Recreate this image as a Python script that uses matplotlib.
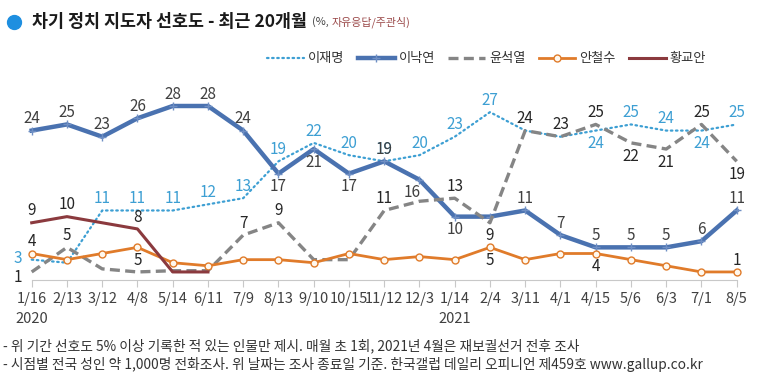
import matplotlib
matplotlib.use('Agg')
import matplotlib.pyplot as plt
from matplotlib.lines import Line2D

plt.rcParams['font.family'] = ['Noto Sans CJK KR', 'DejaVu Sans']

# survey dates (2020/01 .. 2021/08)
dates = ['1/16', '2/13', '3/12', '4/8', '5/14', '6/11', '7/9', '8/13', '9/10',
         '10/15', '11/12', '12/3', '1/14', '2/4', '3/11', '4/1', '4/15', '5/6',
         '6/3', '7/1', '8/5']
years = {0: '2020', 12: '2021'}

# preference (%) per person
lee_jm = [3, 2.5, 11, 11, 11, 12, 13, 19, 22, 20, 19, 20, 23, 27, 24, 23, 24, 25, 24, 24, 25]
lee_ny = [24, 25, 23, 26, 28, 28, 24, 17, 21, 17, 19, 16, 10, 10, 11, 7, 5, 5, 5, 6, 11]
yoon = [1, 5, 1.5, 1, 1.2, 1.2, 7, 9, 3, 3, 11, 12.5, 13, 9, 24, 23, 25, 22, 21, 25, 19]
ahn = [4, 3, 4, 5, 2.5, 2, 3, 3, 2.5, 4, 3, 3.5, 3, 5, 3, 4, 4, 3, 2, 1, 1]
hwang = [9, 10, 9, 8, 1, 1]

# which points get a value label, and where (a=above, b=below, l=left, bl=below left)
lbl_lee_jm = {0: 'l', 2: 'a', 3: 'a', 4: 'a', 5: 'a', 6: 'a', 7: 'a', 8: 'a', 9: 'a',
              10: 'a', 11: 'a', 12: 'a', 13: 'a', 16: 'b', 17: 'a', 18: 'a', 19: 'b', 20: 'a'}
lbl_lee_ny = {0: 'a', 1: 'a', 2: 'a', 3: 'a', 4: 'a', 5: 'a', 6: 'a', 7: 'b', 8: 'b', 9: 'b',
              10: 'a', 11: 'bl', 12: 'b', 14: 'a', 15: 'a', 16: 'a', 17: 'a', 18: 'a',
              19: 'a', 20: 'a'}
lbl_yoon = {0: 'll', 1: 'a', 6: 'a', 7: 'a', 10: 'a', 12: 'a', 13: 'b', 14: 'a', 15: 'a',
            16: 'a', 17: 'b', 18: 'b', 19: 'a', 20: 'b'}
lbl_ahn = {0: 'a', 3: 'b', 13: 'b', 16: 'b', 20: 'a'}
lbl_hwang = {0: 'a', 1: 'a', 3: 'a'}

offsets = {'a': (0, 8.5), 'b': (0, -9.5), 'l': (-7, 0.5), 'll': (-7, -4),
           'bl': (-5, -9)}

fig = plt.figure(figsize=(7.64, 3.87), dpi=100)
ax = fig.add_axes([0.0415, 0.2765, 0.9228, 0.4909])
x = list(range(len(dates)))

series = [
    ('이재명', lee_jm, lbl_lee_jm, '#3d9fd3',
     dict(color='#3d9fd3', lw=1.6, ls=(0, (0.7, 1.6)), dash_capstyle='round')),
    ('이낙연', lee_ny, lbl_lee_ny, '#404040',
     dict(color='#4a72b0', lw=3.2, marker='+', ms=6, mew=1.0, mec='#6f8fc4')),
    ('윤석열', yoon, lbl_yoon, '#262626',
     dict(color='#858585', lw=2.4, ls=(0, (3, 1.6)))),
    ('안철수', ahn, lbl_ahn, '#262626',
     dict(color='#e07b2a', lw=2.0, marker='o', ms=5, mfc='#fff8ee', mec='#e07b2a', mew=1.0)),
    ('황교안', hwang, lbl_hwang, '#262626',
     dict(color='#8b3a3e', lw=2.2)),
]

handles = []
for name, vals, lbls, tcol, style in series:
    xs = x[:len(vals)]
    line, = ax.plot(xs, vals, label=name, clip_on=False, **style)
    handles.append(line)
    for i, pos in lbls.items():
        ha = 'right' if pos in ('l', 'll') else 'center'
        ax.annotate(f'{vals[i]:g}', (xs[i], vals[i]), xytext=offsets[pos],
                    textcoords='offset points', ha=ha, va='center',
                    fontsize=11, color=tcol)

# axes decoration
ax.set_xlim(0, len(dates) - 1)
ax.set_ylim(-0.31, 30.6)
ax.set_yticks([])
for s in ['left', 'right', 'top']:
    ax.spines[s].set_visible(False)
ax.spines['bottom'].set_color('#c8c8c8')
ax.set_xticks(x)
ax.set_xticklabels(dates, fontsize=10.5, color='#404040')
ax.tick_params(axis='x', direction='out', length=5, color='#c8c8c8', pad=4)
for i, yr in years.items():
    ax.annotate(yr, (i, 0), xycoords=('data', 'axes fraction'), xytext=(0, -28),
                textcoords='offset points', ha='center', va='center',
                fontsize=10.5, color='#404040')

# legend
fig.legend(handles=handles, loc='center', bbox_to_anchor=(0.637, 0.848), ncol=5,
           frameon=False, fontsize=9.5, handlelength=2.8, handletextpad=0.3,
           columnspacing=1.0, labelcolor='#333333')

# title, built from pieces
r = fig.canvas.get_renderer()
fig.add_artist(Line2D([14 / 764], [1 - 22 / 387], marker='o', ms=10, color='#1e8fe0',
                      transform=fig.transFigure))
ty = 1 - 22 / 387
t1 = fig.text(32 / 764, ty, '차기 정치 지도자 선호도 - 최근 20개월', fontsize=12.5,
              fontweight='bold', color='#1a1a1a', va='center')
bb = t1.get_window_extent(renderer=r)
t2 = fig.text(bb.x1 / fig.bbox.width + 0.006, ty, '(%,', fontsize=7.9,
              color='#404040', va='center')
bb = t2.get_window_extent(renderer=r)
fig.text(bb.x1 / fig.bbox.width + 0.004, ty, '자유응답/주관식)', fontsize=7.9,
         color='#9b4a4a', va='center')

# footnotes
fig.text(0.004, 1 - 346 / 387,
         '- 위 기간 선호도 5% 이상 기록한 적 있는 인물만 제시. 매월 초 1회, 2021년 4월은 재보궐선거 전후 조사',
         fontsize=9.9, color='#333333', va='center')
fig.text(0.004, 1 - 364 / 387,
         '- 시점별 전국 성인 약 1,000명 전화조사. 위 날짜는 조사 종료일 기준. 한국갤럽 데일리 오피니언 제459호 www.gallup.co.kr',
         fontsize=9.9, color='#333333', va='center')

fig.savefig('out.png', dpi=100)
